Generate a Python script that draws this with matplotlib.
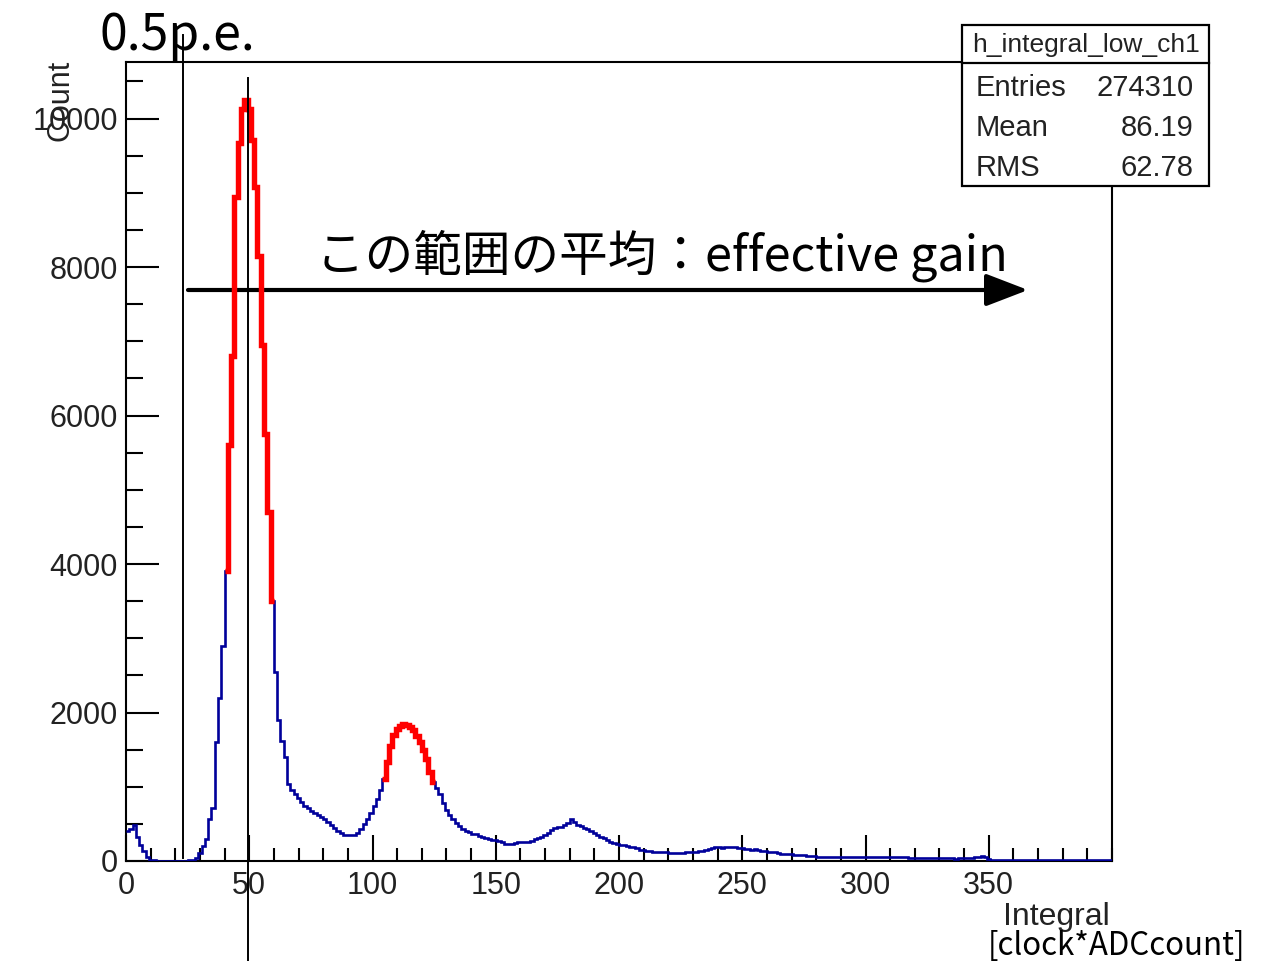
import numpy as np
import matplotlib
matplotlib.use("Agg")
import matplotlib.pyplot as plt
from matplotlib.patches import Rectangle
from matplotlib.lines import Line2D

# Histogram contents, 300 bins on [0, 400)
counts = [
    400, 430, 480, 330, 220, 140, 60, 20,
    8, 6, 5, 5, 4, 5, 4, 5, 6, 5, 6, 8,
    15, 40, 110, 200, 300, 560, 720, 1600, 2200, 2900,
    3900, 5600, 6800, 8950, 9670, 10130, 10250, 10130,
    9710, 9080, 8150, 6950, 5750, 4700, 3500, 2550,
    1900, 1620, 1400, 1040, 960, 900, 850, 790, 740, 710, 680, 650, 620,
    590, 560, 520, 480, 450, 410, 380, 350, 345, 345, 350, 380, 430, 500,
    560, 650, 740, 840, 960,
    1100, 1330, 1550, 1700, 1780, 1820, 1840, 1830, 1800, 1760, 1690, 1600,
    1490, 1380, 1200, 1060,
    980, 900, 780, 690, 620, 560, 510, 465, 430, 400, 390, 370,
    360, 340, 325, 305, 290, 285, 280, 265, 250, 235,
    228, 235, 245, 250, 255, 258, 262, 275, 290, 305,
    330, 355, 375, 415, 440, 460, 455, 480, 510, 560,
    530, 490, 470, 450, 430, 400, 375, 350, 330, 305,
    285, 260, 240, 225, 215, 210, 205, 195, 190, 170,
    150, 145,
    140, 130, 125, 120, 120,
    118, 115, 112, 112, 110,
    112, 110, 115, 118, 120,
    125, 128, 135, 150, 160,
    170, 185, 190, 180, 190,
    195, 185, 190, 180, 170,
    165, 160, 150, 155, 148,
    140, 130, 125, 125, 120,
    105, 100, 100, 95, 90,
    85, 80, 78, 75, 70,
    65, 62, 60, 60, 58,
    60, 58, 60, 57, 58,
    56, 58, 55, 57, 55,
    56, 54, 55, 53, 55,
    54, 52, 54, 50, 52,
    50, 52, 48, 50, 48,
    46, 40, 38, 36, 37,
    36, 35, 34, 36, 35,
    34, 36, 35, 34, 33,
    35, 34, 36, 38, 36,
    55, 60, 65, 50,
    22, 20, 18, 20, 17, 18, 16, 17, 15, 16,
    14, 15, 14, 13, 14, 12, 13, 12, 12, 11,
    12, 11, 10, 11, 10, 10, 9, 10, 9, 9,
    8, 9, 8, 8, 7, 8, 7, 7,
]

x_range = (0.0, 400.0)
fit_ranges = [(40.0, 60.0), (104.0, 125.4)]
half_pe_cut = 23.1
gain_marker = 49.4

hist_name = "h_integral_low_ch1"
stat_labels = ["Entries", "Mean", "RMS"]
stat_values = ["274310", "86.19", "62.78"]

W, H = 1270, 961
fig = plt.figure(figsize=(W / 100, H / 100), dpi=100)
fig.patch.set_facecolor("white")


def fx(px):
    return px / W


def fy(py):
    return 1 - py / H


ax = fig.add_axes([fx(126), fy(861), fx(1112) - fx(126), fy(62) - fy(861)])

counts_arr = np.asarray(counts, dtype=float)
edges = np.linspace(x_range[0], x_range[1], len(counts_arr) + 1)

ax.stairs(counts_arr, edges, baseline=None, color="#00009a", lw=1.9, zorder=3)

eps = 1e-6
for lo, hi in fit_ranges:
    sel = np.where((edges[:-1] >= lo - eps) & (edges[1:] <= hi + eps))[0]
    ax.stairs(counts_arr[sel], edges[sel[0]:sel[-1] + 2], baseline=None,
              color="#ff0000", lw=3.9, zorder=4)

ymax = 1.05 * counts_arr.max()
ax.set_xlim(*x_range)
ax.set_ylim(0, ymax)

tick_font = dict(family="Liberation Sans", size=22)
ax.set_xticks(np.arange(0, 400, 50))
ax.set_xticks(np.arange(0, 401, 10), minor=True)
ax.set_yticks(np.arange(0, 10001, 2000))
ax.set_yticks(np.arange(0, ymax, 500), minor=True)
ax.set_xticklabels([str(v) for v in range(0, 400, 50)], fontdict=tick_font)
ax.set_yticklabels([str(v) for v in range(0, 10001, 2000)], fontdict=tick_font)

ax.tick_params(axis="both", which="both", direction="in", width=1.5,
               colors="black", labelcolor="#222222")
ax.tick_params(axis="y", which="major", length=24, pad=6)
ax.tick_params(axis="y", which="minor", length=12)
ax.tick_params(axis="x", which="major", length=19, pad=7)
ax.tick_params(axis="x", which="minor", length=9.5)
for s in ax.spines.values():
    s.set_linewidth(1.5)
    s.set_color("black")

# vertical marker lines
ax.plot([half_pe_cut, half_pe_cut], [1.034, 0.004], color="black", lw=1.4,
        transform=ax.get_xaxis_transform(), clip_on=False, zorder=5)
ax.plot([gain_marker, gain_marker], [0.98, -0.13], color="black", lw=1.4,
        transform=ax.get_xaxis_transform(), clip_on=False, zorder=5)

# axis titles
fig.text(fx(60), fy(60), "Count", rotation=90, ha="center", va="top",
         family="Liberation Sans", size=22, color="#222222")
fig.text(fx(1110), fy(925), "Integral", ha="right", va="baseline",
         family="Liberation Sans", size=23, color="#222222")

jp_font = ["Noto Sans CJK JP", "DejaVu Sans"]
fig.text(fx(1245), fy(955), "[clock*ADCcount]", ha="right", va="baseline",
         family=jp_font, size=22.5, color="black")
fig.text(fx(100), fy(50), "0.5p.e.", ha="left", va="baseline",
         family=jp_font, size=36, color="black")
fig.text(fx(316), fy(270), "この範囲の平均：effective gain", ha="left",
         va="baseline", family=jp_font, size=35, color="black")

ax.annotate("", xy=(fx(1028), fy(290)), xycoords="figure fraction",
            xytext=(fx(188), fy(290)), textcoords="figure fraction",
            arrowprops=dict(arrowstyle="-|>,head_length=1.3,head_width=0.5",
                            lw=3, color="black", mutation_scale=20,
                            shrinkA=0, shrinkB=0))

# statistics box
bx0, bx1, by0, by1, bdiv = 962, 1209, 25, 186, 63
fig.add_artist(Rectangle((fx(bx0), fy(by1)), fx(bx1) - fx(bx0), fy(by0) - fy(by1),
                         transform=fig.transFigure, facecolor="white",
                         edgecolor="black", lw=1.6, zorder=10))
fig.add_artist(Line2D([fx(bx0), fx(bx1)], [fy(bdiv), fy(bdiv)],
                      transform=fig.transFigure, color="black", lw=1.6, zorder=11))
fig.text(fx((bx0 + bx1) / 2), fy(45), hist_name, ha="center", va="center",
         family="Liberation Sans", size=19, color="#222222", zorder=12)
for k, (lab, val) in enumerate(zip(stat_labels, stat_values)):
    yy = 88 + 40 * k
    fig.text(fx(976), fy(yy), lab, ha="left", va="center",
             family="Liberation Sans", size=21, color="#222222", zorder=12)
    fig.text(fx(1194), fy(yy), val, ha="right", va="center",
             family="Liberation Sans", size=21, color="#222222", zorder=12)

fig.savefig("out.png", dpi=100)
